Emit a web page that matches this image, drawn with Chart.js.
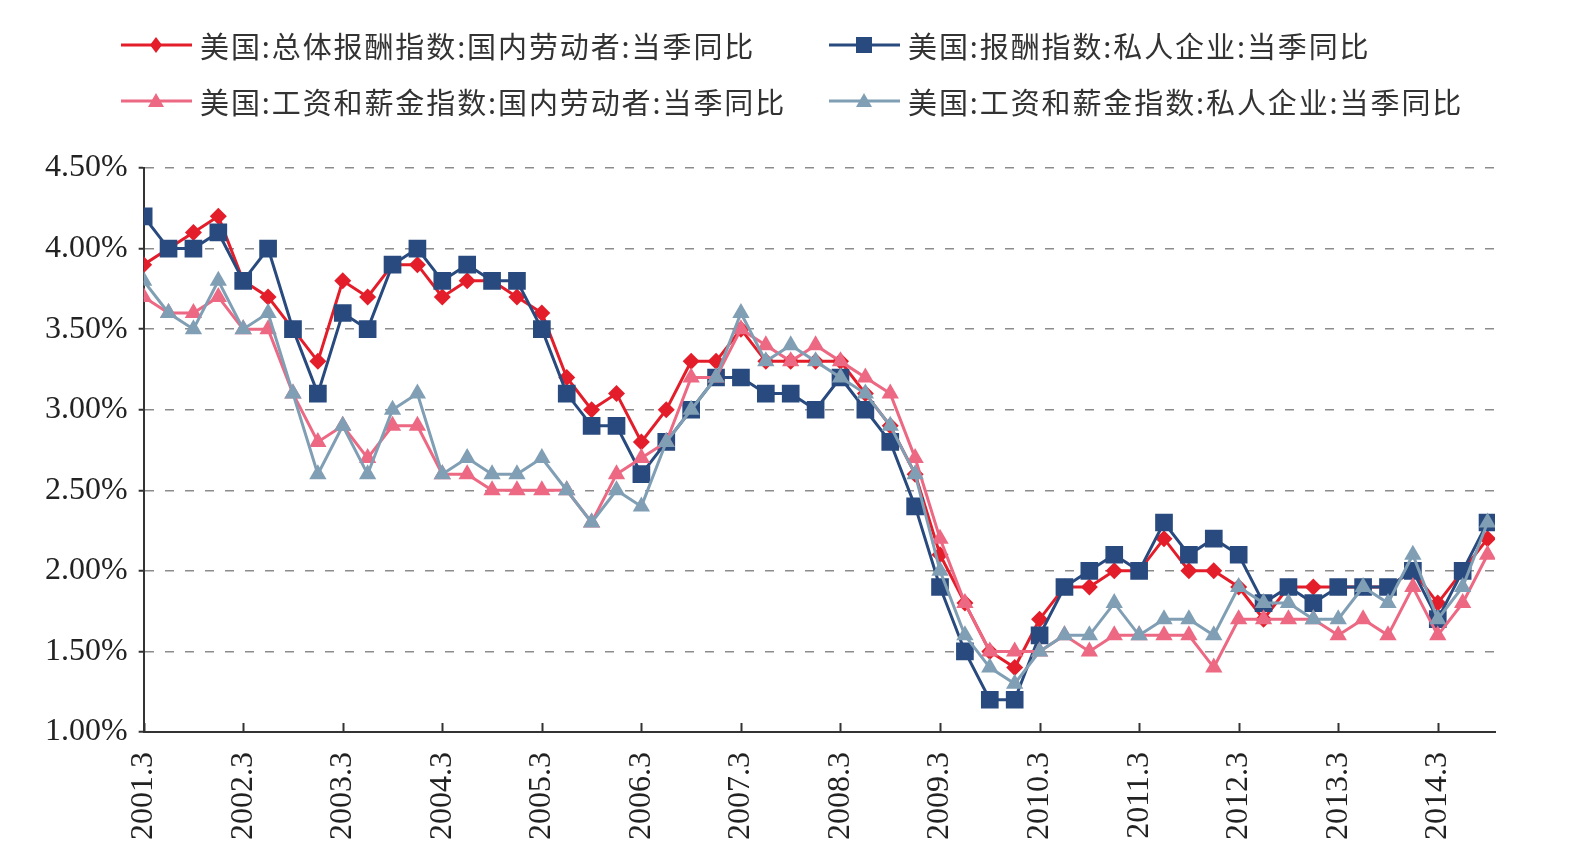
<!DOCTYPE html>
<html>
<head>
<meta charset="utf-8">
<script src="https://cdn.jsdelivr.net/npm/chart.js@4.4.1/dist/chart.umd.min.js"></script>
<style>
  body { margin: 0; background: #fff; }
  #wrap { position: relative; width: 1585px; height: 866px; }
  #chart { position: absolute; left: 0; top: 0; }
  .leg { position: absolute; display: flex; align-items: center; height: 42px;
         font-family: "Noto Sans CJK SC", sans-serif; font-size: 29px; letter-spacing: 1.9px;
         color: #333; white-space: nowrap; }
  .leg svg { margin-right: 8px; }
</style>
</head>
<body>
<div id="wrap">
  <canvas id="chart" width="1585" height="866"></canvas>
  <div id="legend"></div>
</div>
<script>
// quarterly, 2001.3 -> 2014.9
const quarters = [
  "2001.3","2001.6","2001.9","2001.12","2002.3","2002.6","2002.9","2002.12",
  "2003.3","2003.6","2003.9","2003.12","2004.3","2004.6","2004.9","2004.12",
  "2005.3","2005.6","2005.9","2005.12","2006.3","2006.6","2006.9","2006.12",
  "2007.3","2007.6","2007.9","2007.12","2008.3","2008.6","2008.9","2008.12",
  "2009.3","2009.6","2009.9","2009.12","2010.3","2010.6","2010.9","2010.12",
  "2011.3","2011.6","2011.9","2011.12","2012.3","2012.6","2012.9","2012.12",
  "2013.3","2013.6","2013.9","2013.12","2014.3","2014.6","2014.9"
];

const seriesNames = [
  "美国:总体报酬指数:国内劳动者:当季同比",
  "美国:报酬指数:私人企业:当季同比",
  "美国:工资和薪金指数:国内劳动者:当季同比",
  "美国:工资和薪金指数:私人企业:当季同比"
];

const totalCompDomestic = [
  3.9, 4.0, 4.1, 4.2, 3.8, 3.7, 3.5, 3.3, 3.8, 3.7, 3.9, 3.9, 3.7, 3.8, 3.8, 3.7,
  3.6, 3.2, 3.0, 3.1, 2.8, 3.0, 3.3, 3.3, 3.5, 3.3, 3.3, 3.3, 3.3, 3.1, 2.9, 2.6,
  2.1, 1.8, 1.5, 1.4, 1.7, 1.9, 1.9, 2.0, 2.0, 2.2, 2.0, 2.0, 1.9, 1.7, 1.9, 1.9,
  1.9, 1.9, 1.9, 2.0, 1.8, 2.0, 2.2
];
const compPrivate = [
  4.2, 4.0, 4.0, 4.1, 3.8, 4.0, 3.5, 3.1, 3.6, 3.5, 3.9, 4.0, 3.8, 3.9, 3.8, 3.8,
  3.5, 3.1, 2.9, 2.9, 2.6, 2.8, 3.0, 3.2, 3.2, 3.1, 3.1, 3.0, 3.2, 3.0, 2.8, 2.4,
  1.9, 1.5, 1.2, 1.2, 1.6, 1.9, 2.0, 2.1, 2.0, 2.3, 2.1, 2.2, 2.1, 1.8, 1.9, 1.8,
  1.9, 1.9, 1.9, 2.0, 1.7, 2.0, 2.3
];
const wageDomestic = [
  3.7, 3.6, 3.6, 3.7, 3.5, 3.5, 3.1, 2.8, 2.9, 2.7, 2.9, 2.9, 2.6, 2.6, 2.5, 2.5,
  2.5, 2.5, 2.3, 2.6, 2.7, 2.8, 3.2, 3.2, 3.5, 3.4, 3.3, 3.4, 3.3, 3.2, 3.1, 2.7,
  2.2, 1.8, 1.5, 1.5, 1.5, 1.6, 1.5, 1.6, 1.6, 1.6, 1.6, 1.4, 1.7, 1.7, 1.7, 1.7,
  1.6, 1.7, 1.6, 1.9, 1.6, 1.8, 2.1
];
const wagePrivate = [
  3.8, 3.6, 3.5, 3.8, 3.5, 3.6, 3.1, 2.6, 2.9, 2.6, 3.0, 3.1, 2.6, 2.7, 2.6, 2.6,
  2.7, 2.5, 2.3, 2.5, 2.4, 2.8, 3.0, 3.2, 3.6, 3.3, 3.4, 3.3, 3.2, 3.1, 2.9, 2.6,
  2.0, 1.6, 1.4, 1.3, 1.5, 1.6, 1.6, 1.8, 1.6, 1.7, 1.7, 1.6, 1.9, 1.8, 1.8, 1.7,
  1.7, 1.9, 1.8, 2.1, 1.7, 1.9, 2.3
];

const yTicks = [1.0, 1.5, 2.0, 2.5, 3.0, 3.5, 4.0, 4.5];

const colors = ["#e31e2a", "#284a7e", "#ec6883", "#809fb4"];
const markers = ["rectRot", "rect", "triangle", "triangle"];
const radii = [8.5, 12.5, 10, 10];

function toPoints(arr) {
  return arr.map((v, i) => ({ x: i, y: v }));
}

const allSeries = [totalCompDomestic, compPrivate, wageDomestic, wagePrivate];

const datasets = allSeries.map((s, k) => ({
  label: seriesNames[k],
  data: toPoints(s),
  borderColor: colors[k],
  backgroundColor: colors[k],
  pointBackgroundColor: colors[k],
  pointBorderColor: colors[k],
  pointBorderWidth: 0,
  pointStyle: markers[k],
  pointRadius: radii[k],
  borderWidth: 3,
  tension: 0,
  order: 4 - k
}));

// short tick marks pointing up into the plot at every labelled quarter
const innerTicks = {
  id: "innerTicks",
  afterDatasetsDraw(chart) {
    const x = chart.scales.x;
    const ctx = chart.ctx;
    ctx.save();
    ctx.setLineDash([]);
    ctx.strokeStyle = "#333";
    ctx.lineWidth = 2;
    x.ticks.forEach(t => {
      const px = Math.round(x.getPixelForValue(t.value)) + 0.5;
      ctx.beginPath();
      ctx.moveTo(px, x.top);
      ctx.lineTo(px, x.top - 9);
      ctx.stroke();
    });
    ctx.restore();
  }
};

new Chart(document.getElementById("chart"), {
  type: "line",
  data: { datasets },
  plugins: [innerTicks],
  options: {
    responsive: false,
    devicePixelRatio: 1,
    animation: false,
    layout: { padding: { top: 168, left: 34, right: 90, bottom: 6 } },
    plugins: {
      legend: { display: false },
      tooltip: { enabled: false }
    },
    scales: {
      x: {
        type: "linear",
        min: 0,
        max: 54.3,
        grid: { display: false, drawTicks: false },
        border: { display: true, color: "#333", width: 2 },
        ticks: {
          stepSize: 4,
          includeBounds: false,
          autoSkip: false,
          minRotation: 90,
          maxRotation: 90,
          padding: 20,
          color: "#222",
          font: { family: "'Liberation Serif', 'Times New Roman', serif", size: 32 },
          callback: v => quarters[v] || ""
        }
      },
      y: {
        min: 1,
        max: 4.5,
        afterBuildTicks: axis => { axis.ticks = yTicks.map(v => ({ value: v })); },
        grid: {
          color: "#8c8c8c",
          lineWidth: 1.5,
          tickBorderDash: [],
          tickColor: "#333",
          tickWidth: 2,
          tickLength: 5
        },
        border: { display: true, color: "#333", width: 2, dash: [9, 11] },
        ticks: {
          padding: 11,
          color: "#222",
          font: { family: "'Liberation Serif', 'Times New Roman', serif", size: 32 },
          callback: v => v.toFixed(2) + "%"
        }
      }
    }
  }
});

// legend laid out as a 2x2 grid like the source
function markerSvg(k) {
  const c = colors[k];
  let shape = "";
  if (markers[k] === "rectRot") shape = `<polygon points="35,13 41,21 35,29 29,21" fill="${c}"/>`;
  else if (markers[k] === "rect") shape = `<rect x="27" y="13" width="16" height="16" fill="${c}"/>`;
  else shape = `<polygon points="35,13 43,27 27,27" fill="${c}"/>`;
  return `<svg width="71" height="42"><line x1="0" y1="21" x2="71" y2="21" stroke="${c}" stroke-width="3"/>${shape}</svg>`;
}
const legendPos = [[121, 24], [829, 24], [121, 80], [829, 80]];
document.getElementById("legend").innerHTML = seriesNames.map((n, k) =>
  `<div class="leg" style="left:${legendPos[k][0]}px;top:${legendPos[k][1]}px">${markerSvg(k)}<span>${n}</span></div>`
).join("");
</script>
</body>
</html>
